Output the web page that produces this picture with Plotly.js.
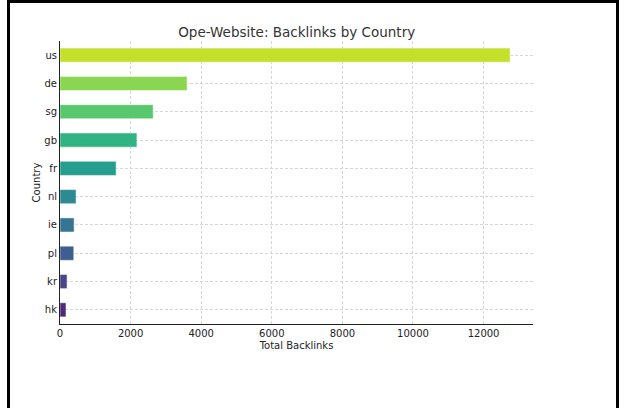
<!DOCTYPE html>
<html>
<head>
<meta charset="utf-8">
<script src="https://cdn.plot.ly/plotly-3.0.1.min.js"></script>
<style>
  html, body { margin: 0; padding: 0; background: #fff; }
  #frame { position: absolute; left: 7px; top: 0; width: 612px; height: 408px;
           border-top: 3px solid #000; border-left: 3px solid #000; border-right: 3px solid #000;
           box-sizing: border-box; pointer-events: none; z-index: 10; }
  #chart { position: absolute; left: 0; top: 0; width: 624px; height: 408px; }
</style>
</head>
<body>
<div id="chart"></div>
<div id="frame"></div>
<script>
const countries = ["us", "de", "sg", "gb", "fr", "nl", "ie", "pl", "kr", "hk"];
const backlinks = [12750, 3600, 2640, 2180, 1590, 455, 400, 390, 200, 170];
const barColors = ["#c2df23", "#86d549", "#52c569", "#2ab07f", "#1e9b8a",
                   "#25858e", "#2d708e", "#38588c", "#433e85", "#482374"];
const xTicks = [0, 2000, 4000, 6000, 8000, 10000, 12000];

const trace = {
  type: "bar",
  orientation: "h",
  y: countries,
  x: backlinks,
  width: 0.5,
  marker: { color: barColors, opacity: 0.96, line: { color: "rgba(255,255,255,0.5)", width: 1 } },
  hoverinfo: "x+y"
};

const layout = {
  width: 624, height: 408,
  margin: { l: 60, r: 91, t: 41, b: 84 },
  paper_bgcolor: "#fff", plot_bgcolor: "#fff",
  font: { family: "DejaVu Sans, sans-serif", size: 10, color: "#222" },
  showlegend: false,
  title: { text: "Ope-Website: Backlinks by Country", x: 0.4755, xanchor: "center",
           y: 1 - 32/408, yanchor: "middle", font: { size: 13.5, color: "#333" } },
  xaxis: {
    range: [0, 13400], tickvals: xTicks, ticktext: xTicks.map(String),
    showgrid: true, gridcolor: "#d6d6d6", griddash: "3px,2px", gridwidth: 1,
    showline: true, linecolor: "#222", linewidth: 1, zeroline: false,
    ticks: "",
    title: { text: "Total Backlinks", font: { size: 10 }, standoff: 3 }
  },
  yaxis: {
    type: "category", autorange: false, range: [9.5, -0.5],
    categoryorder: "array", categoryarray: countries,
    showgrid: true, gridcolor: "#d6d6d6", griddash: "3px,2px", gridwidth: 1,
    showline: true, linecolor: "#222", linewidth: 1, zeroline: false,
    ticks: "",
    title: { text: "Country", font: { size: 10 }, standoff: 1 }
  }
};

Plotly.newPlot("chart", [trace], layout, { displayModeBar: false, staticPlot: true });
</script>
</body>
</html>
